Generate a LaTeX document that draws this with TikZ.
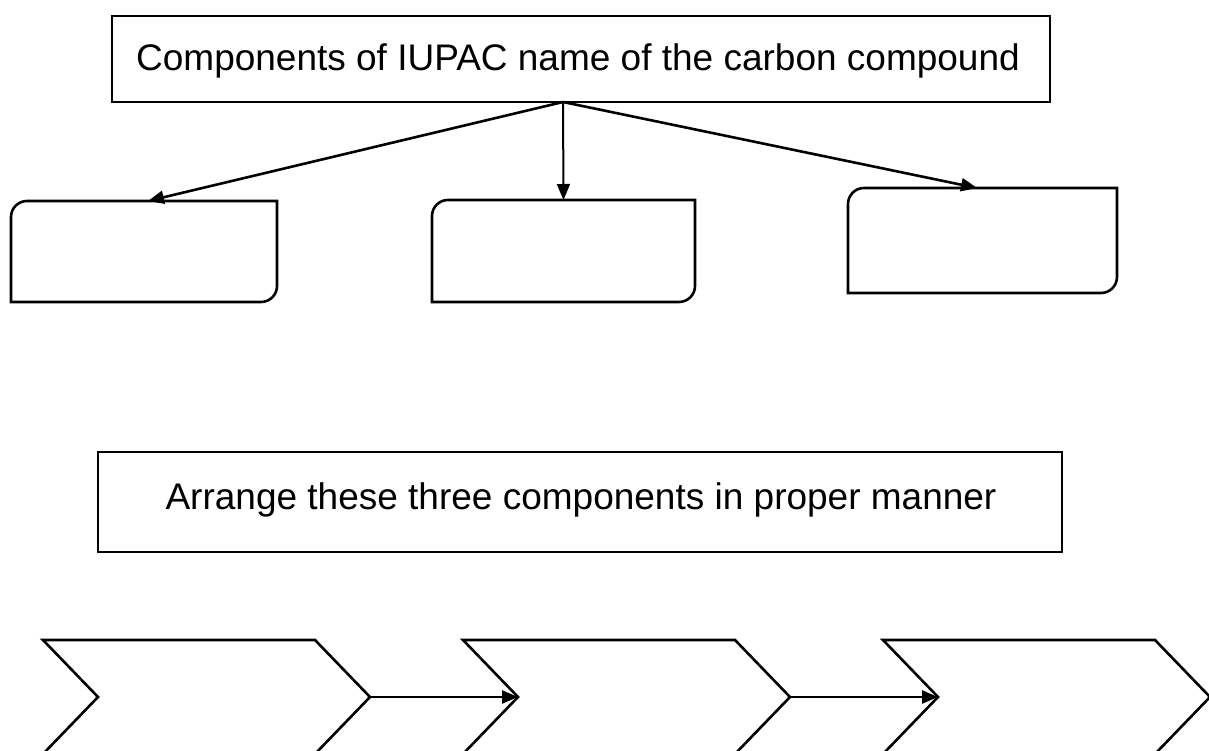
\documentclass[tikz,border=0pt]{standalone}
\usepackage{fontspec}
\setmainfont{Liberation Sans}
\usetikzlibrary{arrows.meta}
\tikzset{
  frame/.style={draw, line width=2.6pt, inner sep=0pt, outer sep=0pt},
  holder/.style={draw=none, inner sep=0pt, outer sep=0pt},
  label/.style={font=\fontsize{37}{44}\selectfont, anchor=base, inner sep=0pt},
  outline/.style={line width=2.6pt, line join=miter},
  arr/.style={line width=2.6pt, -{Triangle[length=16pt,width=13pt]}},
}
\begin{document}
\begin{tikzpicture}[x=1pt,y=1pt]
\useasboundingbox (0,0) rectangle (1209,751);
\clip (0,0) rectangle (1209,751);
% top box
\node[frame, minimum width=938pt, minimum height=86pt] (top) at (581,692) {};
\node[label] (toptext) at (578,680) {Components of IUPAC name of the carbon compound};
% three answer boxes
\node[holder, minimum width=266pt, minimum height=101pt] (b1) at (144,499.5) {};
\node[holder, minimum width=263pt, minimum height=102pt] (b2) at (563.5,500) {};
\node[holder, minimum width=269pt, minimum height=105pt] (b3) at (982.5,510.5) {};
\foreach \b in {b1,b2,b3}{
  \draw[outline] ([yshift=-16pt]\b.north west) arc[start angle=180, end angle=90, radius=16pt]
    -- (\b.north east) -- ([yshift=16pt]\b.south east)
    arc[start angle=0, end angle=-90, radius=16pt] -- (\b.south west) -- cycle;
}
\coordinate (src) at (563,649);
\coordinate (e1) at (148,550);
\coordinate (e3) at (977,563);
\draw[arr] (src) -- (e1);
\draw[arr, line width=2pt] (src) -- (b2.north);
\draw[arr] (src) -- (e3);
% bottom box
\node[frame, minimum width=964pt, minimum height=100pt] (bot) at (580,249) {};
\node[label] (bottext) at (581,241) {Arrange these three components in proper manner};
% chevrons
\foreach \i/\ox in {1/0,2/420,3/840}{
  \draw[outline] (43+\ox,111) -- (315+\ox,111) -- (370+\ox,54) -- (315+\ox,-3)
     -- (43+\ox,-3) -- (98+\ox,54) -- cycle;
  \coordinate (tip\i) at (370+\ox,54);
  \coordinate (notch\i) at (98+\ox,54);
}
\draw[arr] (tip1) -- (notch2);
\draw[arr] (tip2) -- (notch3);
\end{tikzpicture}
\end{document}
